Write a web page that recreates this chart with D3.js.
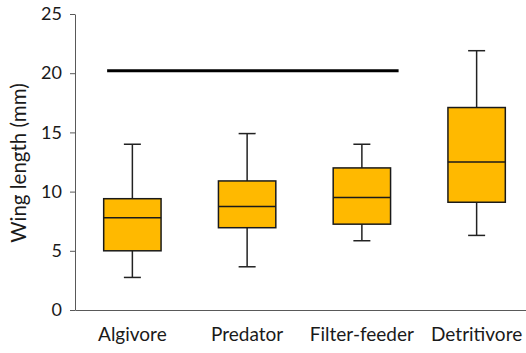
<!DOCTYPE html>
<html><head><meta charset="utf-8">
<script src="https://cdn.jsdelivr.net/npm/d3@7"></script>
<style>html,body{margin:0;padding:0;background:#fff}svg{display:block}</style>
</head><body>
<svg id="chart" width="526" height="353"></svg>
<script>
const categories = ["Algivore", "Predator", "Filter-feeder", "Detritivore"];
const whiskerLow  = [2.75, 3.65, 5.85, 6.3];
const q1          = [5.0, 6.95, 7.25, 9.1];
const median      = [7.8, 8.75, 9.5, 12.5];
const q3          = [9.4, 10.9, 12.0, 17.1];
const whiskerHigh = [14.0, 14.9, 14.0, 21.9];
const yTicks = [0, 5, 10, 15, 20, 25];
const refLineValue = 20.2;
const refLineSpan = [-0.22, 2.32]; // in category-index units
const yTitle = "Wing length (mm)";

(function(){
const svg = d3.select("#chart");
const font = "Lato, 'Open Sans', sans-serif";
const mLeft = 75, mRight = 534, mTop = 14, mBottom = 310;

const x = d3.scaleBand().domain(categories).range([mLeft, mRight]).padding(0);
const idx = d3.scaleLinear().domain([0, 1]).range([x(categories[0]) + x.bandwidth()/2, x(categories[1]) + x.bandwidth()/2]);
const y = d3.scaleLinear().domain([0, 25]).range([mBottom, mTop]);

const yAxis = svg.append("g").attr("transform", `translate(${mLeft},0)`)
  .call(d3.axisLeft(y).tickValues(yTicks).tickSize(5).tickSizeOuter(0).tickPadding(8));
yAxis.select(".domain").attr("stroke", "#595959").attr("stroke-width", 1);
yAxis.selectAll(".tick line").attr("stroke", "#595959");
yAxis.selectAll("text").attr("font-family", font).attr("font-size", 18).attr("fill", "#1a1a1a");

const xAxis = svg.append("g").attr("transform", `translate(0,${mBottom})`)
  .call(d3.axisBottom(x).tickSize(0).tickPadding(17.5));
xAxis.select(".domain").attr("stroke", "#595959").attr("stroke-width", 1);
xAxis.selectAll("text").attr("font-family", font).attr("font-size", 19).attr("fill", "#1a1a1a");

svg.append("text")
  .attr("transform", `translate(26,${(mTop+mBottom)/2 + 1}) rotate(-90)`)
  .attr("text-anchor", "middle")
  .attr("font-family", font).attr("font-size", 20.5).attr("fill", "#1a1a1a")
  .text(yTitle);

svg.append("line")
  .attr("x1", idx(refLineSpan[0])).attr("x2", idx(refLineSpan[1]))
  .attr("y1", y(refLineValue)).attr("y2", y(refLineValue))
  .attr("stroke", "#000").attr("stroke-width", 3);

const data = categories.map((c, i) => ({c, lo: whiskerLow[i], q1: q1[i], med: median[i], q3: q3[i], hi: whiskerHigh[i]}));
const boxW = x.bandwidth() * 0.5, capW = 17;
const g = svg.selectAll("g.box").data(data).join("g").attr("class", "box")
  .attr("transform", d => `translate(${x(d.c) + x.bandwidth()/2},0)`);

g.append("line").attr("x1", 0).attr("x2", 0).attr("y1", d => y(d.hi)).attr("y2", d => y(d.q3))
  .attr("stroke", "#222").attr("stroke-width", 1.5);
g.append("line").attr("x1", 0).attr("x2", 0).attr("y1", d => y(d.q1)).attr("y2", d => y(d.lo))
  .attr("stroke", "#222").attr("stroke-width", 1.5);
g.append("line").attr("x1", -capW/2).attr("x2", capW/2).attr("y1", d => y(d.hi)).attr("y2", d => y(d.hi))
  .attr("stroke", "#222").attr("stroke-width", 1.5);
g.append("line").attr("x1", -capW/2).attr("x2", capW/2).attr("y1", d => y(d.lo)).attr("y2", d => y(d.lo))
  .attr("stroke", "#222").attr("stroke-width", 1.5);
g.append("rect").attr("x", -boxW/2).attr("width", boxW)
  .attr("y", d => y(d.q3)).attr("height", d => y(d.q1) - y(d.q3))
  .attr("fill", "#FFB900").attr("stroke", "#1a1a1a").attr("stroke-width", 1.5);
g.append("line").attr("x1", -boxW/2).attr("x2", boxW/2).attr("y1", d => y(d.med)).attr("y2", d => y(d.med))
  .attr("stroke", "#1a1a1a").attr("stroke-width", 1.5);
})();
</script>
</body></html>
